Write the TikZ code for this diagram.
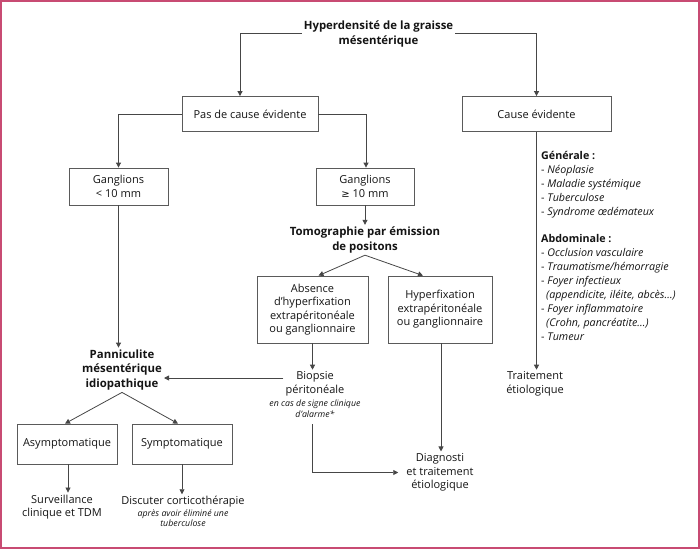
\documentclass[tikz,border=0pt]{standalone}
\usepackage{fontspec}
\setmainfont{Open Sans}
\newfontfamily\symf{DejaVu Sans}
\usetikzlibrary{arrows.meta,calc}
\definecolor{pinkc}{RGB}{200,75,115}
\definecolor{linec}{RGB}{70,70,70}
\definecolor{boxc}{RGB}{90,90,90}
\definecolor{txtc}{RGB}{20,20,20}
\tikzset{
  rtext/.style={align=center, text=txtc, inner sep=2pt, font=\fontsize{11}{13.5}\selectfont},
  btext/.style={align=center, text=txtc, inner sep=2pt, font=\fontsize{11.4}{14.5}\selectfont\bfseries},
  ntext/.style={align=center, text=txtc, inner sep=1pt, font=\fontsize{8.8}{10.5}\selectfont\itshape},
  boxn/.style={rtext, draw=boxc, line width=0.8pt},
  arr/.style={draw=linec, line width=0.8pt, -{Triangle[length=5pt,width=5pt]}},
  ln/.style={draw=linec, line width=0.8pt},
}
\begin{document}
\begin{tikzpicture}[x=1pt,y=-1pt]
\useasboundingbox (0,0) rectangle (700,549);
\draw[pinkc, line width=2pt] (1,1) rectangle (699,548);

% nodes
\node[btext] (title) at (378.5,34) {Hyperdensité de la graisse\\mésentérique};
\node[boxn, minimum width=136pt, minimum height=35pt] (pas) at (250,114) {Pas de cause évidente};
\node[boxn, minimum width=149pt, minimum height=35pt] (cause) at (536.5,114) {Cause évidente};
\node[boxn, minimum width=99pt, minimum height=37pt] (g1) at (118.5,186.5) {Ganglions\\< 10 mm};
\node[boxn, minimum width=98pt, minimum height=37pt] (g2) at (365,186.5) {Ganglions\\{\symf\fontsize{10}{12}\selectfont ≥} 10 mm};
\node[btext] (tomo) at (365,240) {Tomographie par émission\\de positons};
\node[boxn, minimum width=111pt, minimum height=67pt] (abs) at (312.5,309.5) {Absence\\d’hyperfixation\\extrapéritonéale\\ou ganglionnaire};
\node[boxn, minimum width=104pt, minimum height=67pt] (hyp) at (440,309.5) {Hyperfixation\\extrapéritonéale\\ou ganglionnaire};
\node[rtext] (biop) at (315,384) {Biopsie\\péritonéale};
\node[ntext] (bnote) at (315,408.5) {en cas de signe clinique\\d’alarme*};
\node[rtext, inner xsep=8pt] (diag) at (440,472.5) {Diagnosti\\et traitement\\étiologique};
\node[btext] (pann) at (122,370) {Panniculite\\mésentérique\\idiopathique};
\node[boxn, minimum width=100pt, minimum height=40pt] (asym) at (67,444) {Asymptomatique};
\node[boxn, minimum width=100pt, minimum height=40pt] (sym) at (182,444) {Symptomatique};
\node[rtext] (surv) at (62,507) {Surveillance\\clinique et TDM};
\node[rtext] (disc) at (183,502) {Discuter corticothérapie};
\node[ntext] (dnote) at (183,518) {après avoir éliminé une\\tuberculose};
\node[rtext] (trait) at (535,384) {Traitement\\étiologique};
\node[anchor=north west, align=left, text=txtc, inner sep=0pt, font=\fontsize{10.7}{14}\selectfont] (list) at (541,151) {%
\textbf{Générale :}\\
- \textit{Néoplasie}\\
- \textit{Maladie systémique}\\
- \textit{Tuberculose}\\
- \textit{Syndrome œdémateux}\\[13pt]
\textbf{Abdominale :}\\
- \textit{Occlusion vasculaire}\\
- \textit{Traumatisme/hémorragie}\\
- \textit{Foyer infectieux}\\
\hspace*{5pt}\textit{(appendicite, iléite, abcès…)}\\
- \textit{Foyer inflammatoire}\\
\hspace*{5pt}\textit{(Crohn, pancréatite…)}\\
- \textit{Tumeur}};

\coordinate (bpy) at (0,378);

% connectors
\draw[arr] (title.west |- 0,33) -| ([xshift=-10pt]pas.north);
\draw[arr] (title.east |- 0,33) -| (cause.north);
\draw[arr] (pas.west) -| (g1.north);
\draw[arr] (pas.east) -| ([xshift=1pt]g2.north);
\draw[arr] (g2.south) -- (tomo.north);
\draw[arr] (tomo.south) -- ([xshift=6pt]abs.north);
\draw[arr] (tomo.south) -- ([xshift=-17pt]hyp.north);
\draw[arr] (abs.south) -- (abs.south |- biop.north);
\draw[arr] (biop.west |- bpy) -- (pann.east |- bpy);
\draw[arr] ([yshift=-6pt]bnote.south -| abs.south) |- (diag.west);
\draw[arr] ([xshift=1pt]hyp.south) -- ([xshift=1pt]hyp.south |- diag.north);
\draw[arr] (g1.south) -- (g1.south |- pann.north);
\draw[arr] (pann.south) -- ([xshift=-2pt]asym.north);
\draw[arr] (pann.south) -- ([xshift=-4pt]sym.north);
\draw[arr] ([xshift=1pt]asym.south) -- ([xshift=1pt]asym.south |- surv.north);
\draw[arr] (sym.south) -- (sym.south |- disc.north);
\draw[arr] (cause.south) -- (cause.south |- trait.north);
\end{tikzpicture}
\end{document}
